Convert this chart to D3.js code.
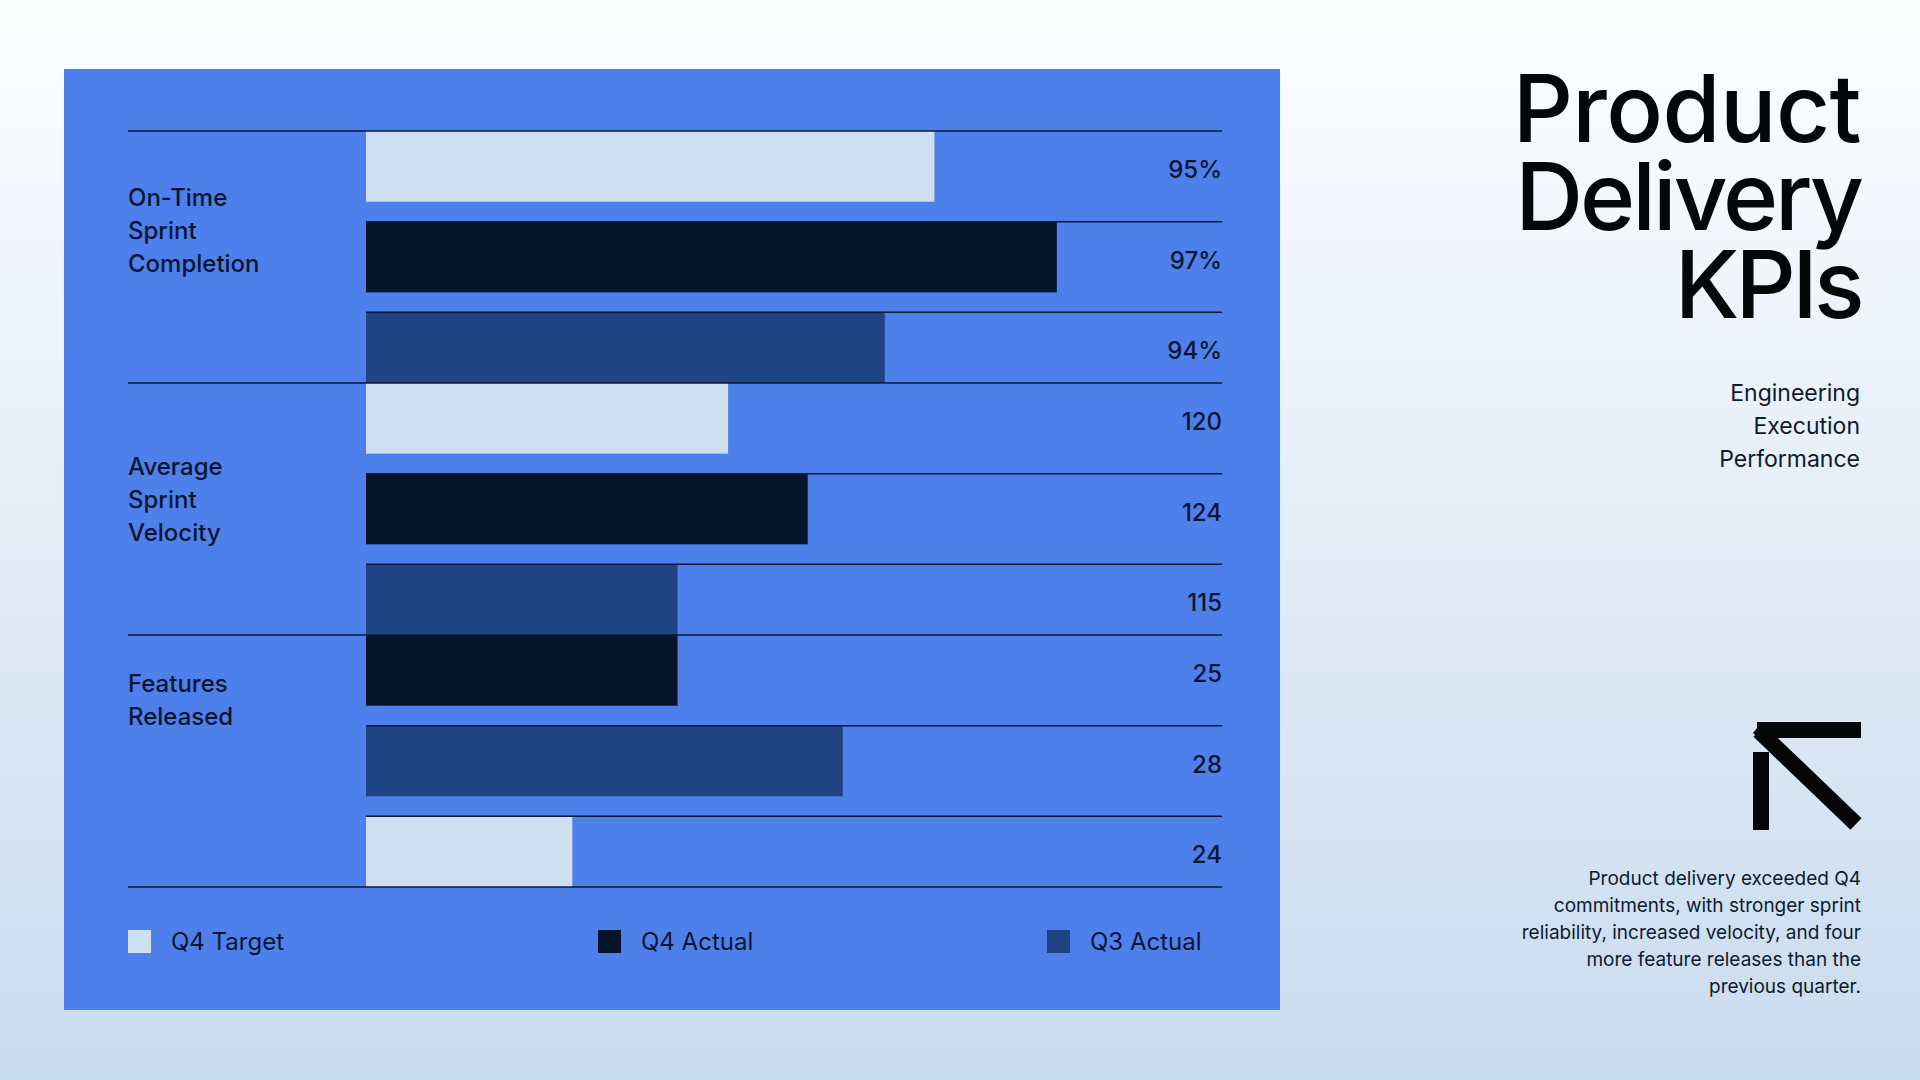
<!DOCTYPE html>
<html>
<head>
<meta charset="utf-8">
<script src="https://cdn.jsdelivr.net/npm/d3@7"></script>
<style>
  html, body { margin: 0; padding: 0; width: 1920px; height: 1080px; overflow: hidden; }
  body { font-family: Inter, "Open Sans", sans-serif; }
  svg { display: block; }
</style>
</head>
<body>
<svg id="chart" width="1920" height="1080"></svg>
<script>
// ---------------- DATA ----------------
const categories = ["On-Time Sprint Completion", "Average Sprint Velocity", "Features Released"];
const categoryLines = [["On-Time", "Sprint", "Completion"], ["Average", "Sprint", "Velocity"], ["Features", "Released"]];
const seriesNames = ["Q4 Target", "Q4 Actual", "Q3 Actual"];
const q4Target = [95, 120, 25];
const q4Actual = [97, 124, 28];
const q3Actual = [94, 115, 24];
const valueSuffix = ["%", "", ""];
// series drawn in each row of each group (as shown in the reference)
const barSeries = [
  ["Q4 Target", "Q4 Actual", "Q3 Actual"],
  ["Q4 Target", "Q4 Actual", "Q3 Actual"],
  ["Q4 Actual", "Q3 Actual", "Q4 Target"]
];
// bar length index (0-100 track) as drawn in the reference
const barIndex = [
  [66.4, 80.7, 60.6],
  [42.3, 51.6, 36.4],
  [36.4, 55.7, 24.1]
];
const titleLines = ["Product", "Delivery", "KPIs"];
const subtitleLines = ["Engineering", "Execution", "Performance"];
const noteLines = [
  "Product delivery exceeded Q4",
  "commitments, with stronger sprint",
  "reliability, increased velocity, and four",
  "more feature releases than the",
  "previous quarter."
];

// ---------------- STYLE ----------------
const colors = { "Q4 Target": "#cddff0", "Q4 Actual": "#061529", "Q3 Actual": "#1e4483" };
const ink = "#0a1631";
const panelColor = "#4d80eb";

const svg = d3.select("#chart");
const defs = svg.append("defs");
const grad = defs.append("linearGradient").attr("id", "bg").attr("x1", 0).attr("y1", 0).attr("x2", 0).attr("y2", 1);
grad.append("stop").attr("offset", "0%").attr("stop-color", "#fdfeff");
grad.append("stop").attr("offset", "100%").attr("stop-color", "#c9dbee");
svg.append("rect").attr("width", 1920).attr("height", 1080).attr("fill", "url(#bg)");

// panel
svg.append("rect").attr("x", 64).attr("y", 69).attr("width", 1216).attr("height", 941).attr("fill", panelColor);

// scales
const labelX = 128, trackX0 = 366, trackX1 = 1222;
const x = d3.scaleLinear().domain([0, 100]).range([trackX0, trackX1]);
const yGroup = d3.scaleBand().domain(categories).range([131, 887]).padding(0);
const yRow = d3.scaleBand().domain([0, 1, 2]).range([0, yGroup.bandwidth()]).paddingInner(0.22).paddingOuter(0);

const seriesValues = { "Q4 Target": q4Target, "Q4 Actual": q4Actual, "Q3 Actual": q3Actual };

const rows = [];
categories.forEach((c, gi) => {
  barSeries[gi].forEach((s, ri) => {
    rows.push({ cat: c, gi, ri, series: s, len: barIndex[gi][ri],
      label: seriesValues[seriesNames[ri]][gi] + valueSuffix[gi] });
  });
});

const g = svg.append("g");
// bars
g.selectAll("rect.bar").data(rows).join("rect")
  .attr("class", "bar")
  .attr("x", x(0))
  .attr("y", d => yGroup(d.cat) + yRow(d.ri))
  .attr("width", d => x(d.len) - x(0))
  .attr("height", yRow.bandwidth())
  .attr("fill", d => colors[d.series]);

// separator lines
const lineColor = "#0b1a3a";
categories.forEach((c, gi) => {
  g.append("line").attr("x1", labelX).attr("x2", trackX1)
    .attr("y1", yGroup(c)).attr("y2", yGroup(c))
    .attr("stroke", lineColor).attr("stroke-width", 1.5);
  [1, 2].forEach(ri => {
    const yy = yGroup(c) + yRow(ri);
    g.append("line").attr("x1", trackX0).attr("x2", trackX1)
      .attr("y1", yy).attr("y2", yy)
      .attr("stroke", lineColor).attr("stroke-width", 1.5);
  });
});
g.append("line").attr("x1", labelX).attr("x2", trackX1)
  .attr("y1", yGroup.range()[1]).attr("y2", yGroup.range()[1])
  .attr("stroke", lineColor).attr("stroke-width", 1.5);

// value labels
g.selectAll("text.val").data(rows).join("text")
  .attr("class", "val")
  .attr("x", trackX1)
  .attr("y", d => yGroup(d.cat) + yRow(d.ri) + yRow.bandwidth() / 2 + 3)
  .attr("text-anchor", "end")
  .attr("dominant-baseline", "central")
  .attr("font-size", 24)
  .attr("font-weight", 500)
  .attr("fill", ink)
  .text(d => d.label);

// category labels
const labelNudge = [75, 92, 57];
categories.forEach((c, gi) => {
  const t = g.append("text").attr("x", labelX).attr("y", yGroup(c) + labelNudge[gi])
    .attr("font-size", 24).attr("font-weight", 500).attr("fill", ink);
  categoryLines[gi].forEach((ln, li) => {
    t.append("tspan").attr("x", labelX).attr("dy", li === 0 ? 0 : 33).text(ln);
  });
});

// legend
const legendX = [128, 598, 1047];
const leg = g.selectAll("g.leg").data(seriesNames).join("g")
  .attr("class", "leg")
  .attr("transform", (d, i) => `translate(${legendX[i]},930)`);
leg.append("rect").attr("width", 23).attr("height", 23).attr("fill", d => colors[d]);
leg.append("text").attr("x", 43).attr("y", 20).attr("font-size", 24).attr("fill", ink).text(d => d);

// title
const titleSpacing = [-0.6, -3, -3.7];
titleLines.forEach((ln, i) => {
  svg.append("text").attr("x", 1861).attr("y", 142 + i * 88)
    .attr("text-anchor", "end").attr("font-size", 94).attr("font-weight", 500)
    .attr("letter-spacing", titleSpacing[i]).attr("fill", "#050608")
    .text(ln);
});

const sub = svg.append("text").attr("x", 1860).attr("y", 401)
  .attr("text-anchor", "end").attr("font-size", 23).attr("fill", "#0e1a30");
subtitleLines.forEach((ln, i) => sub.append("tspan").attr("x", 1860).attr("dy", i === 0 ? 0 : 33).text(ln));

// arrow icon
const arrow = svg.append("g").attr("fill", "#050608");
arrow.append("rect").attr("x", 1757).attr("y", 722).attr("width", 104).attr("height", 16);
arrow.append("rect").attr("x", 1753).attr("y", 752).attr("width", 16).attr("height", 78);
arrow.append("line").attr("x1", 1759).attr("y1", 731).attr("x2", 1856).attr("y2", 824)
  .attr("stroke", "#050608").attr("stroke-width", 16);
arrow.append("path").attr("d", "M1753,733 L1762,722 L1768,722 L1768,740 L1760,740 Z");

const note = svg.append("text").attr("x", 1861).attr("y", 885)
  .attr("text-anchor", "end").attr("font-size", 19).attr("fill", "#0e1a30");
noteLines.forEach((ln, i) => note.append("tspan").attr("x", 1861).attr("dy", i === 0 ? 0 : 27).text(ln));
</script>
</body>
</html>
